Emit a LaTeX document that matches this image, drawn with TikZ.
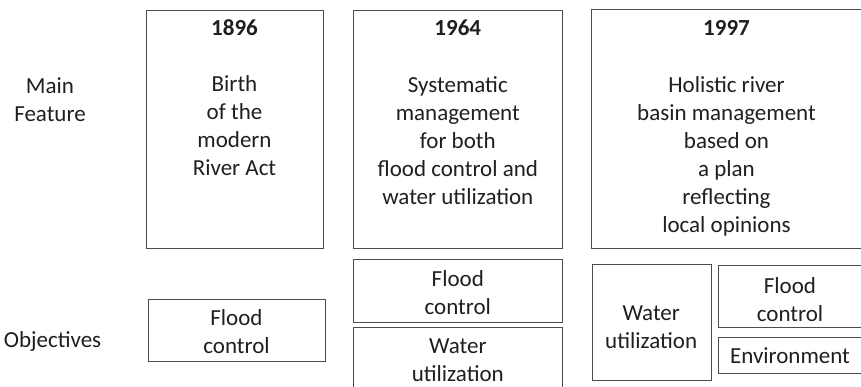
\documentclass[tikz,border=0pt]{standalone}
\usepackage{fontspec}
\setmainfont{Carlito}
\begin{document}
\begin{tikzpicture}[x=1pt,y=-1pt,
  boxshape/.style={draw=black!70, line width=0.9pt, rectangle, inner sep=0pt, anchor=north west},
  txt/.style={align=center, inner sep=0pt, text=black!88, font=\fontsize{23}{28}\selectfont},
  ttl/.style={inner sep=0pt, anchor=base, text=black!88, font=\fontsize{23}{28}\selectfont\bfseries}]
\useasboundingbox (0,0) rectangle (861,386);
% boxes
\node[boxshape, minimum width=177.6pt, minimum height=238pt] (b1) at (145.7,10) {};
\node[boxshape, minimum width=209pt, minimum height=238pt] (b2) at (353.3,10) {};
\node[boxshape, minimum width=272pt, minimum height=238.7pt] (b3) at (591,9.3) {};
\node[boxshape, minimum width=177.6pt, minimum height=62.3pt] (o1) at (147.7,298.7) {};
\node[boxshape, minimum width=209pt, minimum height=62.4pt] (o2a) at (353.3,259.3) {};
\node[boxshape, minimum width=209pt, minimum height=62pt] (o2b) at (353.3,326.7) {};
\node[boxshape, minimum width=119pt, minimum height=115.7pt] (o3a) at (591.7,264.3) {};
\node[boxshape, minimum width=145pt, minimum height=62pt] (o3b) at (718.3,265.3) {};
\node[boxshape, minimum width=145pt, minimum height=36.6pt] (o3c) at (718.3,336.7) {};
% row labels
\node[txt, anchor=north] (lmain) at (50,73.7) {\strut Main\\Feature};
\node[txt, anchor=base] (lobj) at (52.5,347) {Objectives};
% titles
\node[ttl] (y1) at (234.5,35) {1896};
\node[ttl] (y2) at (457.8,35) {1964};
\node[ttl] (y3) at (726.5,35) {1997};
% main features
\node[txt, anchor=north] (f1) at (234.5,72.1) {\strut Birth\\of the\\modern\\River Act};
\node[txt, anchor=north] (f2) at (457.8,72.4) {\strut Systematic\\management\\for both\\flood control and\\water utilization};
\node[txt, anchor=north] (f3) at (726.5,72.4) {\strut Holistic river\\basin management\\based on\\a plan\\reflecting\\local opinions};
% objectives
\node[txt, anchor=north] (x1) at (236.5,305.4) {\strut Flood\\control};
\node[txt, anchor=north] (x2a) at (457.8,266.4) {\strut Flood\\control};
\node[txt, anchor=north] (x2b) at (457.8,333.4) {\strut Water\\utilization};
\node[txt, anchor=north] (x3a) at (651.2,300.4) {\strut Water\\utilization};
\node[txt, anchor=north] (x3b) at (790,273.7) {\strut Flood\\control};
\node[txt, anchor=base] (x3c) at (790,363.3) {Environment};
\end{tikzpicture}
\end{document}
